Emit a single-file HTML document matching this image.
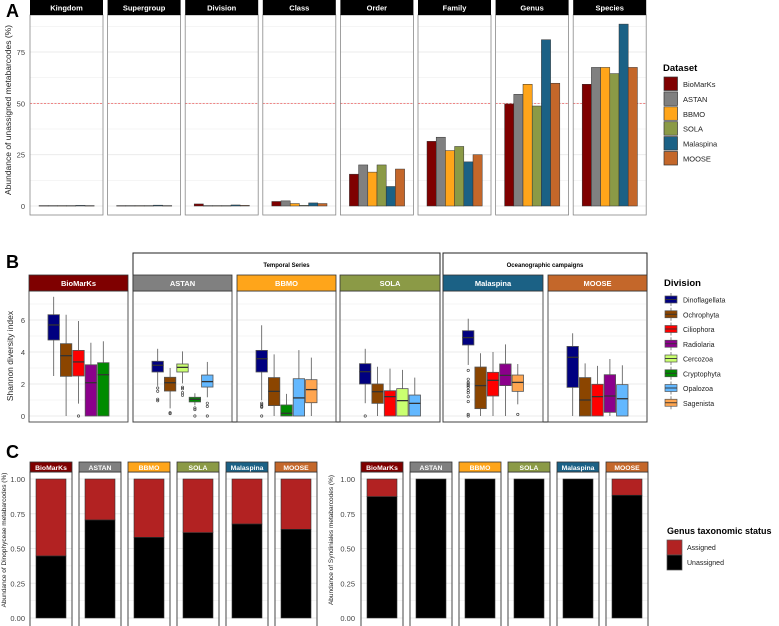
<!DOCTYPE html>
<html><head><meta charset="utf-8">
<style>
html,body{margin:0;padding:0;background:#fff;}
svg{display:block;font-family:"Liberation Sans",sans-serif;}
</style></head>
<body>
<svg id="fig" width="779" height="626" viewBox="0 0 779 626" xmlns="http://www.w3.org/2000/svg"></svg>
<script>
// ---------- DATA ----------
const datasets = ["BioMarKs","ASTAN","BBMO","SOLA","Malaspina","MOOSE"];
const dsColors = ["#7f0000","#808080","#ffa51a","#8b9a46","#1b6185","#c4672a"];
const ranks = ["Kingdom","Supergroup","Division","Class","Order","Family","Genus","Species"];
const unassignedKingdom = [0.2,0.2,0.2,0.2,0.3,0.2];
const unassignedSupergroup = [0.2,0.2,0.2,0.2,0.4,0.2];
const unassignedDivision = [1.0,0.2,0.2,0.2,0.5,0.3];
const unassignedClass = [2.2,2.5,1.2,0.3,1.5,1.2];
const unassignedOrder = [15.5,20,16.5,20,9.5,18];
const unassignedFamily = [31.5,33.5,27,29,21.5,25];
const unassignedGenus = [49.7,54.4,59.3,48.7,81,59.8];
const unassignedSpecies = [59.3,67.5,67.5,64.5,88.6,67.5];
const aTicks = [0,25,50,75];
const threshold = 50;

const divisions = ["Dinoflagellata","Ochrophyta","Ciliophora","Radiolaria","Cercozoa","Cryptophyta","Opalozoa","Sagenista"];
const divColors = ["#000080","#8b4500","#ff0000","#8b008b","#caff70","#008b00","#63b8ff","#ffa54f"];
const bTicks = [0,2,4,6];
// boxes per dataset panel: [division index, lowWhisker, q1, median, q3, highWhisker]
const boxBioMarKs = [[0,2.5,4.75,5.69,6.33,7.45],[1,0,2.48,3.77,4.52,6.33],[2,0.77,2.5,3.38,4.1,5.94],[3,0,0,2.08,3.2,4.58],[5,0,0,2.58,3.33,4.67]];
const boxASTAN = [[0,1.88,2.75,3.17,3.42,4.2],[1,0.48,1.56,2.08,2.42,3.0],[4,2.04,2.75,3.04,3.25,4.04],[5,0.67,0.88,1.04,1.17,1.42],[6,1.17,1.81,2.15,2.56,3.38]];
const boxBBMO = [[0,0.98,2.75,3.58,4.1,5.67],[1,0,0.65,1.54,2.4,3.85],[5,0,0,0.17,0.69,1.38],[6,0,0,1.13,2.33,4.12],[7,0,0.83,1.65,2.27,3.65]];
const boxSOLA = [[0,0.8,2.0,2.77,3.27,4.2],[1,0,0.79,1.52,2.0,3.08],[2,0,0,1.21,1.58,2.96],[4,0,0,0.96,1.71,2.88],[6,0,0,0.79,1.31,2.4]];
const boxMalaspina = [[0,3.19,4.44,4.9,5.33,6.08],[1,0,0.46,1.9,3.06,3.92],[2,0,1.25,2.23,2.73,4.0],[3,0,1.9,2.54,3.25,4.48],[7,0.73,1.54,2.1,2.56,3.25]];
const boxMOOSE = [[0,0,1.79,3.67,4.35,5.17],[1,0,0,1.0,2.4,3.29],[2,0,0,1.21,1.98,3.13],[3,0,0.23,1.25,2.58,3.56],[6,0,0,1.08,1.96,3.17]];
const outBioMarKs = [[],[],[0],[],[]];
const outASTAN = [[1.75,1.55,1.05,0.95],[0.2,0.15],[1.8,1.7,1.45,1.3],[0.5,0.4,0],[0.8,0.6,0]];
const outBBMO = [[0.8,0.7,0.6,0.55,0],[],[],[],[]];
const outSOLA = [[0],[],[],[],[]];
const outMalaspina = [[2.85,2.3,2.1,2.0,1.9,1.8,1.6,1.45,1.2,0.9,0.1,0],[],[],[],[0.1]];
const outMOOSE = [[],[],[],[],[]];

const dinoUnassigned = [0.446,0.705,0.58,0.614,0.676,0.638];
const syndUnassigned = [0.873,1,1,1,1,0.883];
const cTicks = [0,0.25,0.5,0.75,1];
const cTickLabels = ["0.00","0.25","0.50","0.75","1.00"];

// ---------- HELPERS ----------
const svg = document.getElementById('fig');
const NS = "http://www.w3.org/2000/svg";
function mk(tag, attrs, parent){
  const e = document.createElementNS(NS, tag);
  for (const k in attrs) e.setAttribute(k, attrs[k]);
  (parent||svg).appendChild(e);
  return e;
}
function txt(s, attrs, parent){ const t = mk('text', attrs, parent); t.textContent = s; return t; }

// ---------- PANEL A ----------
const yA = v => 206 - v*2.053;
const aVals = [unassignedKingdom,unassignedSupergroup,unassignedDivision,unassignedClass,unassignedOrder,unassignedFamily,unassignedGenus,unassignedSpecies];
let lab = txt("A",{x:6,y:17,"font-size":18,"font-weight":"bold"});


let yt = txt("Abundance of unassigned metabarcodes (%)",{x:0,y:0,"font-size":8.5,fill:"#222","text-anchor":"middle",transform:"translate(11,110) rotate(-90)"});


aTicks.forEach(t=>{
  const l = txt(String(t),{x:25,y:yA(t)+3,"font-size":7.5,fill:"#444","text-anchor":"end"});
  
  
});
ranks.forEach((r,i)=>{
  const x0 = 30 + i*77.6, w = 73;
  const g = mk('g',{});
  
  
  for (let k=0;k<8;k++){ const v = k*12.5; if (yA(v)<16) break;
    mk('line',{x1:x0,x2:x0+w,y1:yA(v),y2:yA(v),stroke:"#ebebeb","stroke-width":k%2?0.5:1},g); }
  mk('line',{x1:x0,x2:x0+w,y1:yA(threshold),y2:yA(threshold),stroke:"#f06060","stroke-width":0.8,"stroke-dasharray":"2,1.5"},g);
  aVals[i].forEach((v,j)=>{
    const b = mk('rect',{x:x0+9+j*9.2,y:yA(v),width:9.2,height:Math.max(206-yA(v),0.5),fill:dsColors[j],stroke:"#333","stroke-width":0.5},g);
    
    
  });
  mk('rect',{x:x0,y:15,width:w,height:200,fill:"none",stroke:"#888","stroke-width":0.8},g);
  const s = mk('rect',{x:x0,y:0,width:w,height:15,fill:"#000"},g);
  
  
  txt(r,{x:x0+w/2,y:10.5,"font-size":7.5,"font-weight":"bold",fill:"#fff","text-anchor":"middle"},g);
});
// legend A
const legA = mk('g',{});


txt("Dataset",{x:663,y:71,"font-size":9.5,"font-weight":"bold"},legA);
datasets.forEach((d,j)=>{
  const y = 77 + j*14.9;
  const k = mk('rect',{x:664,y:y,width:13.5,height:13.5,fill:dsColors[j],stroke:"#333","stroke-width":0.7},legA);
  
  
  txt(d,{x:683,y:y+10,"font-size":7.5,fill:"#222"},legA);
});

// ---------- PANEL B ----------
const yB = v => 416 - v*16;
lab = txt("B",{x:6,y:268,"font-size":18,"font-weight":"bold"});


yt = txt("Shannon diversity index",{x:0,y:0,"font-size":8.5,fill:"#222","text-anchor":"middle",transform:"translate(13,356) rotate(-90)"});


bTicks.forEach(t=>{
  const l = txt(String(t),{x:25,y:yB(t)+3,"font-size":7.5,fill:"#444","text-anchor":"end"});
  
  
});
// group boxes
[[133,440,"Temporal Series"],[443,647,"Oceanographic campaigns"]].forEach(([a,b,t])=>{
  const g = mk('rect',{x:a,y:253,width:b-a,height:169,fill:"none",stroke:"#222","stroke-width":1});
  
  
  txt(t,{x:(a+b)/2,y:267,"font-size":6,"font-weight":"bold","text-anchor":"middle"});
});
const bPanels = [[29,128,boxBioMarKs,outBioMarKs],[133,232,boxASTAN,outASTAN],[237,336,boxBBMO,outBBMO],[340,440,boxSOLA,outSOLA],[443,543,boxMalaspina,outMalaspina],[548,647,boxMOOSE,outMOOSE]];
bPanels.forEach(([a,b,boxes,outs],i)=>{
  const g = mk('g',{});
  
  
  for (let k=0;k<=7;k++) mk('line',{x1:a,x2:b,y1:yB(k),y2:yB(k),stroke:"#ebebeb","stroke-width":k%2?0.5:1},g);
  const slot = 12.4, cx = (a+b)/2, start = cx - slot*boxes.length/2;
  boxes.forEach((bx,j)=>{
    const [d,lo,q1,med,q3,hi] = bx;
    const xc = start + slot*(j+0.5), bw = 11.4;
    const bg = mk('g',{},g);
    
    
    mk('line',{x1:xc,x2:xc,y1:yB(hi),y2:yB(lo),stroke:"#555","stroke-width":0.8},bg);
    mk('rect',{x:xc-bw/2,y:yB(q3),width:bw,height:Math.max(yB(q1)-yB(q3),0.5),fill:divColors[d],stroke:"#555","stroke-width":0.8},bg);
    mk('line',{x1:xc-bw/2,x2:xc+bw/2,y1:yB(med),y2:yB(med),stroke:"#333","stroke-width":1.3},bg);
    outs[j].forEach(o=> mk('circle',{cx:xc,cy:yB(o),r:1.2,fill:"none",stroke:"#333","stroke-width":0.6},bg));
  });
  mk('rect',{x:a,y:291,width:b-a,height:131,fill:"none",stroke:"#444","stroke-width":0.9},g);
  const s = mk('rect',{x:a,y:275,width:b-a,height:16,fill:dsColors[i],stroke:"#333","stroke-width":0.8},g);
  
  
  txt(datasets[i],{x:(a+b)/2,y:286,"font-size":7.5,"font-weight":"bold",fill:"#fff","text-anchor":"middle"},g);
});
// legend B
const legB = mk('g',{});


txt("Division",{x:664,y:286,"font-size":9.5,"font-weight":"bold"},legB);
divisions.forEach((d,j)=>{
  const y = 293 + j*14.75;
  const kg = mk('g',{},legB);
  
  
  mk('line',{x1:671,x2:671,y1:y,y2:y+13,stroke:"#555","stroke-width":0.7},kg);
  mk('rect',{x:665,y:y+3,width:12,height:7,fill:divColors[j],stroke:"#555","stroke-width":0.7},kg);
  mk('line',{x1:665,x2:677,y1:y+6.5,y2:y+6.5,stroke:"#333","stroke-width":0.9},kg);
  txt(d,{x:683,y:y+9.5,"font-size":7,fill:"#222"},legB);
});

// ---------- PANEL C ----------
const yC = v => 618 - v*139;
lab = txt("C",{x:6,y:458,"font-size":18,"font-weight":"bold"});


function cGroup(x0, values, axX, titleX, title, prefix){
  const ytl = txt(title,{x:0,y:0,"font-size":6.5,fill:"#222","text-anchor":"middle",transform:"translate("+titleX+",540) rotate(-90)"});
  
  
  cTicks.forEach((t,k)=>{
    const l = txt(cTickLabels[k],{x:axX,y:yC(t)+3,"font-size":7.5,fill:"#444","text-anchor":"end"});
    
    
  });
  values.forEach((v,i)=>{
    const a = x0 + i*49, w = 42;
    const g = mk('g',{});
    
    
    for (let k=0;k<=8;k++) mk('line',{x1:a,x2:a+w,y1:yC(k/8),y2:yC(k/8),stroke:"#ebebeb","stroke-width":k%2?0.5:1},g);
    const r1 = mk('rect',{x:a+6,y:yC(1),width:30,height:yC(v)-yC(1),fill:"#b22222",stroke:"#333","stroke-width":0.6},g);
    
    
    const r2 = mk('rect',{x:a+6,y:yC(v),width:30,height:yC(0)-yC(v),fill:"#000",stroke:"#333","stroke-width":0.6},g);
    
    
    mk('rect',{x:a,y:472,width:w,height:160,fill:"none",stroke:"#333","stroke-width":0.9},g);
    const s = mk('rect',{x:a,y:462,width:w,height:10,fill:dsColors[i],stroke:"#333","stroke-width":0.8},g);
    
    
    txt(datasets[i],{x:a+w/2,y:470,"font-size":6.8,"font-weight":"bold",fill:"#fff","text-anchor":"middle"},g);
  });
}
cGroup(30, dinoUnassigned, 25, 6, "Abundance of Dinophyceae metabarcodes (%)", "panel-c-dino");
cGroup(361, syndUnassigned, 355, 333, "Abundance of Syndiniales metabarcodes (%)", "panel-c-synd");
// legend C
const legC = mk('g',{});


txt("Genus taxonomic status",{x:667,y:534,"font-size":9,"font-weight":"bold"},legC);
[["Assigned","#b22222"],["Unassigned","#000"]].forEach(([n,c],j)=>{
  const y = 540 + j*15;
  const k = mk('rect',{x:667,y:y,width:15,height:15,fill:c,stroke:"#555","stroke-width":0.7},legC);
  
  
  txt(n,{x:687,y:y+10,"font-size":7,fill:"#222"},legC);
});
</script>
</body></html>
